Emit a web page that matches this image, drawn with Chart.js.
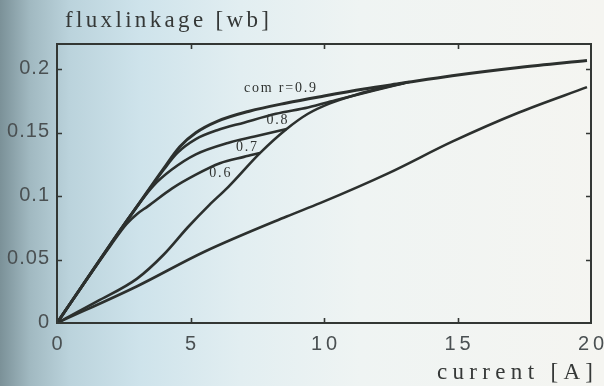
<!DOCTYPE html>
<html>
<head>
<meta charset="utf-8">
<script src="https://cdn.jsdelivr.net/npm/chart.js@4.4.1/dist/chart.umd.min.js"></script>
<style>
  html, body { margin: 0; padding: 0; }
  body {
    width: 604px; height: 386px; overflow: hidden;
    background: linear-gradient(to right, #7b9198 0px, #a1b9c1 30px, #bbd3dc 70px, #cee3eb 140px, #e2eef1 240px, #eff4f3 360px, #f5f5f1 604px);
  }
  #c { display: block; }
</style>
</head>
<body>
<canvas id="c" width="604" height="386" style="width:604px;height:386px"></canvas>
<script>
// Flux linkage vs. phase current, for several commutation ratios,
// plus the steep rising branch and the unaligned (linear) characteristic.

const xTicks = [0, 5, 10, 15, 20];
const xTickLabels = ['0', '5', '10', '15', '20'];
const yTicks = [0, 0.05, 0.1, 0.15, 0.2];
const yTickLabels = ['0', '0.05', '0.1', '0.15', '0.2'];

const curveNames = ['com r=0.9', '0.8', '0.7', '0.6'];

const current09 = [0, 1, 2, 3, 4, 4.6, 5.2, 6.0, 7.2, 8.6, 10.0, 11.5, 12.9, 14.8, 17.3, 19.85];
const flux09    = [0, 0.031, 0.062, 0.092, 0.122, 0.139, 0.150, 0.159, 0.167, 0.1735, 0.179, 0.1845, 0.189, 0.195, 0.2015, 0.207];

const current08 = [0, 1, 2, 3, 4, 4.5, 5.2, 6.0, 7.0, 8.2, 9.4, 10.5, 11.8, 13.0];
const flux08    = [0, 0.031, 0.062, 0.092, 0.121, 0.134, 0.145, 0.152, 0.158, 0.165, 0.170, 0.176, 0.183, 0.189];

const current07 = [0, 1, 2, 3, 3.6, 4.3, 5.2, 6.4, 7.4, 8.6];
const flux07    = [0, 0.031, 0.062, 0.092, 0.108, 0.121, 0.133, 0.142, 0.147, 0.153];

const current06 = [0, 1, 2, 2.6, 3.0, 3.4, 4.3, 5.2, 6.1, 7.0, 7.6];
const flux06    = [0, 0.031, 0.061, 0.078, 0.086, 0.092, 0.106, 0.117, 0.126, 0.131, 0.134];

const currentRise = [0, 1.5, 3.0, 4.0, 4.9, 5.7, 6.4, 7.6, 8.6, 9.4, 10.2, 11.2, 12.3, 13.2];
const fluxRise    = [0, 0.017, 0.035, 0.054, 0.0755, 0.093, 0.107, 0.134, 0.153, 0.165, 0.173, 0.180, 0.186, 0.190];

const currentUnaligned = [0, 3, 5.5, 8.6, 9.85, 12.4, 14.8, 17.3, 19.85];
const fluxUnaligned    = [0, 0.029, 0.056, 0.084, 0.0945, 0.118, 0.143, 0.166, 0.186];

const pts = (xs, ys) => xs.map((v, i) => ({ x: v, y: ys[i] }));

const INK = '#2c302e';
const lineStyle = {
  borderColor: INK, borderWidth: 2.6, pointRadius: 0,
  fill: false, cubicInterpolationMode: 'monotone'
};

// where each curve's name is written (data units, centre of text)
const curveNameAt = [
  { x: 8.35, y: 0.1853 },
  { x: 8.24, y: 0.1598 },
  { x: 7.10, y: 0.1385 },
  { x: 6.10, y: 0.1180 }
];

function spacedText(ctx, str, x, y, spacing, align) {
  const chars = [...str];
  const widths = chars.map(c => ctx.measureText(c).width);
  const total = widths.reduce((s, w) => s + w, 0) + spacing * (chars.length - 1);
  let cx = align === 'right' ? x - total : align === 'center' ? x - total / 2 : x;
  ctx.textAlign = 'left';
  chars.forEach((c, i) => { ctx.fillText(c, cx, y); cx += widths[i] + spacing; });
}
function fittedText(ctx, str, x, y, width, align) {
  const chars = [...str];
  const natural = chars.reduce((s, c) => s + ctx.measureText(c).width, 0);
  spacedText(ctx, str, x, y, (width - natural) / (chars.length - 1), align);
}

const framePlugin = {
  id: 'frame',
  afterDatasetsDraw(chart) {
    const { ctx, chartArea: a, scales: { x, y } } = chart;
    ctx.save();
    // box
    ctx.strokeStyle = '#333734';
    ctx.lineWidth = 2;
    ctx.strokeRect(a.left, a.top, a.right - a.left, a.bottom - a.top);
    // inward ticks on all four sides
    ctx.lineWidth = 1.6;
    ctx.beginPath();
    xTicks.forEach(v => {
      if (v <= x.min || v >= x.max) return;
      const px = Math.round(x.getPixelForValue(v)) + 0.5;
      ctx.moveTo(px, a.bottom); ctx.lineTo(px, a.bottom - 5);
      ctx.moveTo(px, a.top); ctx.lineTo(px, a.top + 5);
    });
    yTicks.forEach(v => {
      if (v <= y.min || v >= y.max) return;
      const py = Math.round(y.getPixelForValue(v)) + 0.5;
      ctx.moveTo(a.left, py); ctx.lineTo(a.left + 5, py);
      ctx.moveTo(a.right, py); ctx.lineTo(a.right - 5, py);
    });
    ctx.stroke();

    // tick labels
    ctx.fillStyle = '#4a5052';
    ctx.textBaseline = 'middle';
    ctx.font = '20px "Liberation Sans", Arial, sans-serif';
    yTicks.forEach((v, i) => {
      spacedText(ctx, yTickLabels[i], 49, y.getPixelForValue(v) - 1, 1, 'right');
    });
    xTicks.forEach((v, i) => {
      spacedText(ctx, xTickLabels[i], x.getPixelForValue(v), 344, 4, 'center');
    });

    // axis titles
    ctx.fillStyle = '#353837';
    ctx.textBaseline = 'alphabetic';
    ctx.font = '23px "Liberation Serif", "Times New Roman", serif';
    fittedText(ctx, 'fluxlinkage [wb]', 65, 27, 204, 'left');
    fittedText(ctx, 'current [A]', 593, 379, 156, 'right');

    // curve names
    ctx.fillStyle = '#303331';
    ctx.textBaseline = 'middle';
    ctx.font = '14px "Liberation Serif", "Times New Roman", serif';
    curveNames.forEach((name, i) => {
      const p = curveNameAt[i];
      spacedText(ctx, name, x.getPixelForValue(p.x), y.getPixelForValue(p.y), 1.8, 'center');
    });
    ctx.restore();
  }
};

new Chart(document.getElementById('c'), {
  type: 'line',
  data: {
    datasets: [
      { label: curveNames[0], data: pts(current09, flux09), ...lineStyle, borderWidth: 3 },
      { label: curveNames[1], data: pts(current08, flux08), ...lineStyle },
      { label: curveNames[2], data: pts(current07, flux07), ...lineStyle },
      { label: curveNames[3], data: pts(current06, flux06), ...lineStyle },
      { label: 'rise', data: pts(currentRise, fluxRise), ...lineStyle },
      { label: 'unaligned', data: pts(currentUnaligned, fluxUnaligned), ...lineStyle }
    ]
  },
  options: {
    responsive: false,
    animation: false,
    devicePixelRatio: 1,
    layout: { padding: { left: 57, right: 13, top: 44, bottom: 63 } },
    plugins: { legend: { display: false }, tooltip: { enabled: false } },
    scales: {
      x: { type: 'linear', min: 0, max: 20, display: false },
      y: { type: 'linear', min: 0, max: 0.22, display: false }
    }
  },
  plugins: [framePlugin]
});
</script>
</body>
</html>
